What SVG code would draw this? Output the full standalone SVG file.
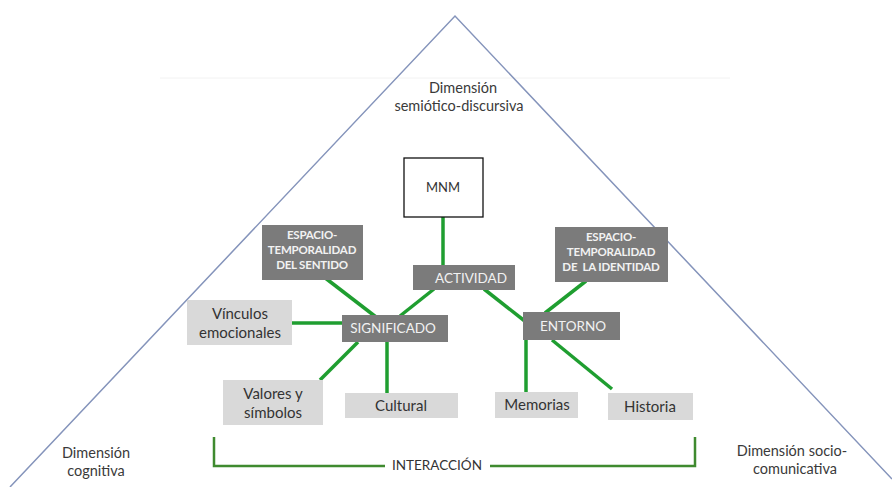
<svg xmlns="http://www.w3.org/2000/svg" width="892" height="487" viewBox="0 0 892 487">
<style>
text{font-family:Lato,"Open Sans","Liberation Sans",sans-serif;text-anchor:middle}
.dim{font-size:14.5px;fill:#3a3a3a}
.dark{fill:#7b7b7b}
.dt{fill:#f2f2f2;font-size:13.5px}
.st{fill:#f2f2f2;font-size:11.5px;font-weight:bold;letter-spacing:-0.2px}
.light{fill:#d9d9d9}
.lt{fill:#333;font-size:15px}
.g{stroke:#1f9e30;stroke-width:3.5;fill:none}
.br{stroke:#3f8a2f;stroke-width:2.5;fill:none}
</style>
<rect width="892" height="487" fill="#fff"/>
<line x1="160" y1="78" x2="730" y2="78" stroke="#f2f2f2" stroke-width="1"/>
<path d="M10 487 L455 16 L892 479" fill="none" stroke="#8594bb" stroke-width="1.5"/>
<g id="labels">
<text class="dim" x="463" y="93">Dimensión</text>
<text class="dim" x="459" y="111">semiótico-discursiva</text>
<text class="dim" x="96" y="458">Dimensión</text>
<text class="dim" x="96" y="476">cognitiva</text>
<text class="dim" x="792" y="456">Dimensión socio-</text>
<text class="dim" x="795" y="474">comunicativa</text>
</g>
<g id="connectors">
<line class="g" x1="443" y1="217" x2="443" y2="266"/>
<line class="g" x1="324" y1="277" x2="376" y2="317"/>
<line class="g" x1="434" y1="289" x2="400" y2="316"/>
<line class="g" x1="484" y1="289" x2="526" y2="322"/>
<line class="g" x1="586" y1="281" x2="545" y2="313"/>
<line class="g" x1="292" y1="323" x2="343" y2="323"/>
<line class="g" x1="358" y1="342" x2="320" y2="380"/>
<line class="g" x1="387" y1="342" x2="387" y2="394"/>
<line class="g" x1="526" y1="340" x2="526" y2="393"/>
<line class="g" x1="552" y1="340" x2="612" y2="389"/>
<path class="br" d="M214 437 V466 H385 M490 466 H695 V437"/>
</g>
<g id="mnm"><rect x="404" y="158" width="79" height="59" fill="#fff" stroke="#111" stroke-width="1.3"/><text x="443" y="192" font-size="13" fill="#333">MNM</text></g>
<g id="actividad"><rect class="dark" x="413" y="265" width="102" height="25"/><text class="dt" x="471" y="283">ACTIVIDAD</text></g>
<g id="espacio-sentido"><rect class="dark" x="262" y="225" width="101" height="55"/><text class="st" x="312" y="239">ESPACIO-</text><text class="st" x="312" y="254">TEMPORALIDAD</text><text class="st" x="312" y="269">DEL SENTIDO</text></g>
<g id="espacio-identidad"><rect class="dark" x="555" y="227" width="113" height="55"/><text class="st" x="611" y="241">ESPACIO-</text><text class="st" x="611" y="256">TEMPORALIDAD</text><text class="st" x="611" y="271" xml:space="preserve">DE  LA IDENTIDAD</text></g>
<g id="significado"><rect class="dark" x="342" y="315" width="106" height="27"/><text class="dt" x="393" y="333">SIGNIFICADO</text></g>
<g id="entorno"><rect class="dark" x="523" y="312" width="97" height="28"/><text class="dt" x="573" y="331" font-size="14">ENTORNO</text></g>
<g id="vinculos"><rect class="light" x="187" y="300" width="105" height="45"/><text class="lt" x="240" y="319">Vínculos</text><text class="lt" x="240" y="338">emocionales</text></g>
<g id="valores"><rect class="light" x="223" y="380" width="100" height="45"/><text class="lt" x="273" y="399">Valores y</text><text class="lt" x="273" y="418">símbolos</text></g>
<g id="cultural"><rect class="light" x="345" y="393" width="113" height="25"/><text class="lt" x="401" y="411">Cultural</text></g>
<g id="memorias"><rect class="light" x="495" y="392" width="83" height="26"/><text class="lt" x="537" y="410">Memorias</text></g>
<g id="historia"><rect class="light" x="608" y="393" width="85" height="27"/><text class="lt" x="650" y="412">Historia</text></g>
<g id="interaccion"><text x="437" y="470" font-size="13.5" fill="#333">INTERACCIÓN</text></g>
</svg>
